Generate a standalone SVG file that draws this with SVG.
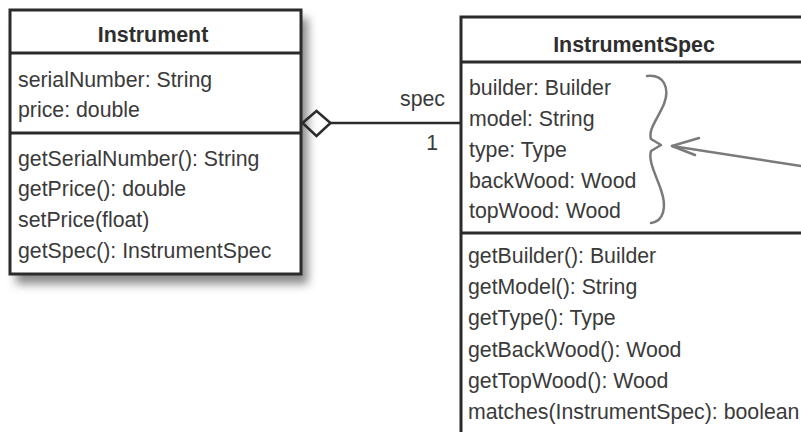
<svg xmlns="http://www.w3.org/2000/svg" width="801" height="432" viewBox="0 0 801 432">
<style>
  .box { fill: #ffffff; stroke: #2b2b2b; stroke-width: 3; }
  .div { stroke: #2b2b2b; stroke-width: 3; }
  .t { font-family: "Liberation Sans", Arial, sans-serif; font-size: 21.3px; fill: #3a3a3a; }
  .title { font-family: "Liberation Sans", Arial, sans-serif; font-size: 21.4px; font-weight: bold; fill: #2e2e2e; text-anchor: middle; }
  .conn { stroke: #2b2b2b; stroke-width: 2.5; fill: none; }
  .note { stroke: #7a7a7a; stroke-width: 2.5; fill: none; stroke-linecap: round; stroke-linejoin: round; }
</style>
<defs>
  <filter id="shadow" x="-20%" y="-20%" width="140%" height="140%">
    <feGaussianBlur stdDeviation="5"/>
  </filter>
</defs>
<rect width="801" height="432" fill="#ffffff"/>

<g id="instrument">
  <rect x="16" y="18" width="292" height="266" fill="#8a8a8a" filter="url(#shadow)"/>
  <rect class="box" x="10" y="10" width="291" height="264"/>
  <line class="div" x1="10" y1="53" x2="301" y2="53"/>
  <line class="div" x1="10" y1="133" x2="301" y2="133"/>
  <text class="title" x="153" y="42">Instrument</text>
  <text class="t" x="18" y="87">serialNumber: String</text>
  <text class="t" x="18" y="117">price: double</text>
  <text class="t" x="18" y="166">getSerialNumber(): String</text>
  <text class="t" x="18" y="196">getPrice(): double</text>
  <text class="t" x="18" y="227">setPrice(float)</text>
  <text class="t" x="18" y="258">getSpec(): InstrumentSpec</text>
</g>

<g id="instrumentspec">
  <rect class="box" x="461" y="17" width="360" height="430"/>
  <line class="div" x1="461" y1="62" x2="801" y2="62"/>
  <line class="div" x1="461" y1="233" x2="801" y2="233"/>
  <text class="title" x="634" y="52">InstrumentSpec</text>
  <text class="t" x="469" y="95">builder: Builder</text>
  <text class="t" x="469" y="126">model: String</text>
  <text class="t" x="469" y="157">type: Type</text>
  <text class="t" x="469" y="188">backWood: Wood</text>
  <text class="t" x="469" y="218">topWood: Wood</text>
  <text class="t" x="468" y="263">getBuilder(): Builder</text>
  <text class="t" x="468" y="294">getModel(): String</text>
  <text class="t" x="468" y="325">getType(): Type</text>
  <text class="t" x="468" y="357">getBackWood(): Wood</text>
  <text class="t" x="468" y="388">getTopWood(): Wood</text>
  <text class="t" x="468" y="419">matches(InstrumentSpec): boolean</text>
</g>

<g id="connectors">
  <line class="conn" x1="330" y1="123" x2="461" y2="123"/>
  <polygon class="conn" points="302.5,123 316.5,111 330.5,123 316.5,136" fill="#ffffff"/>
  <text class="t" x="445" y="106" text-anchor="end">spec</text>
  <text class="t" x="438" y="150" text-anchor="end">1</text>
</g>

<g id="annotation">
  <path class="note" d="M647,76 C664,74 670,88 664,104 C657,120 648,130 651,139 L661,145 L651,151 C648,161 656,175 661,190 C667,207 664,221 651,223"/>
  <line class="note" x1="801" y1="166" x2="672" y2="146"/>
  <polyline class="note" points="699,138 672,146 695,155"/>
</g>
</svg>
